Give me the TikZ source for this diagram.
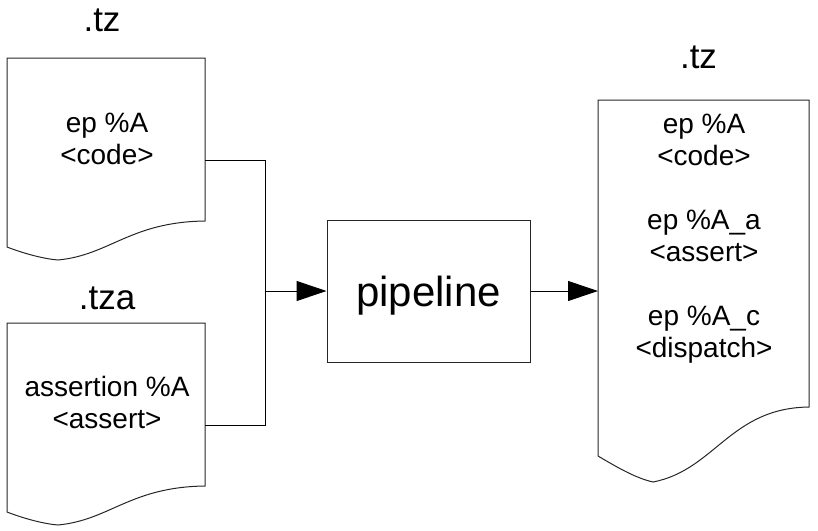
\documentclass[tikz,border=0pt]{standalone}
\usepackage{fontspec}
\setmainfont{Liberation Sans}
\usetikzlibrary{arrows.meta}

\begin{document}
\begin{tikzpicture}[x=1pt,y=-1pt,
        every node/.style={inner sep=0pt},
        doctitle/.style={font=\fontsize{35}{40}\selectfont, anchor=base},
        doctext/.style={font=\fontsize{28}{32}\selectfont, align=center, anchor=base},
        outline/.style={draw=black!85, line width=1pt},
        wire/.style={draw=black, line width=1pt},
        tip/.style={-{Triangle[length=30pt,width=20pt]}}]
        \useasboundingbox (0,0) rectangle (818,530);
        % input file .tz
        \draw [outline] (7,247) -- (7,58) -- (205,58) -- (205,221)
            .. controls (130,222) and (110,255) .. (58,260)
            .. controls (45,259) and (25,254) .. (7,247) -- cycle;
        \node [doctitle] (tztitle) at (102,31) {.tz};
        \node [doctext] (tzbody) at (107,164) {ep \%A\\<code>};
        \coordinate (tzout) at (205,160);
        % input file .tza
        \draw [outline] (7,512) -- (7,323) -- (205,323) -- (205,486)
            .. controls (130,487) and (110,520) .. (58,525)
            .. controls (45,524) and (25,519) .. (7,512) -- cycle;
        \node [doctitle] (tzatitle) at (107,309) {.tza};
        \node [doctext] (tzabody) at (107,428) {assertion \%A\\<assert>};
        \coordinate (tzaout) at (205,425);
        % pipeline
        \node [outline, minimum width=203pt, minimum height=142pt,
            text height=30pt, text depth=0pt,
            font=\fontsize{42}{48}\selectfont] (pipe) at (428.5,291) {pipeline};
        \coordinate (join) at (265,291);
        % output file .tz
        \draw [outline] (598,456) -- (598,100) -- (809,100) -- (809,407)
            .. controls (730,408) and (715,470) .. (653,482)
            .. controls (635,478) and (615,466) .. (598,456) -- cycle;
        \node [doctitle] (outtitle) at (698.5,68) {.tz};
        \node [doctext] (outbody) at (704,357) {ep \%A\\<code>\\[32pt]ep \%A\_a\\<assert>\\[32pt]ep \%A\_c\\<dispatch>};
        \coordinate (outin) at (598,291);
        % connectors
        \draw [wire] (tzout) -| (join);
        \draw [wire] (tzaout) -| (join);
        \draw [wire, tip] (join) -- (pipe.west);
        \draw [wire, tip] (pipe.east) -- (outin);
\end{tikzpicture}
\end{document}
